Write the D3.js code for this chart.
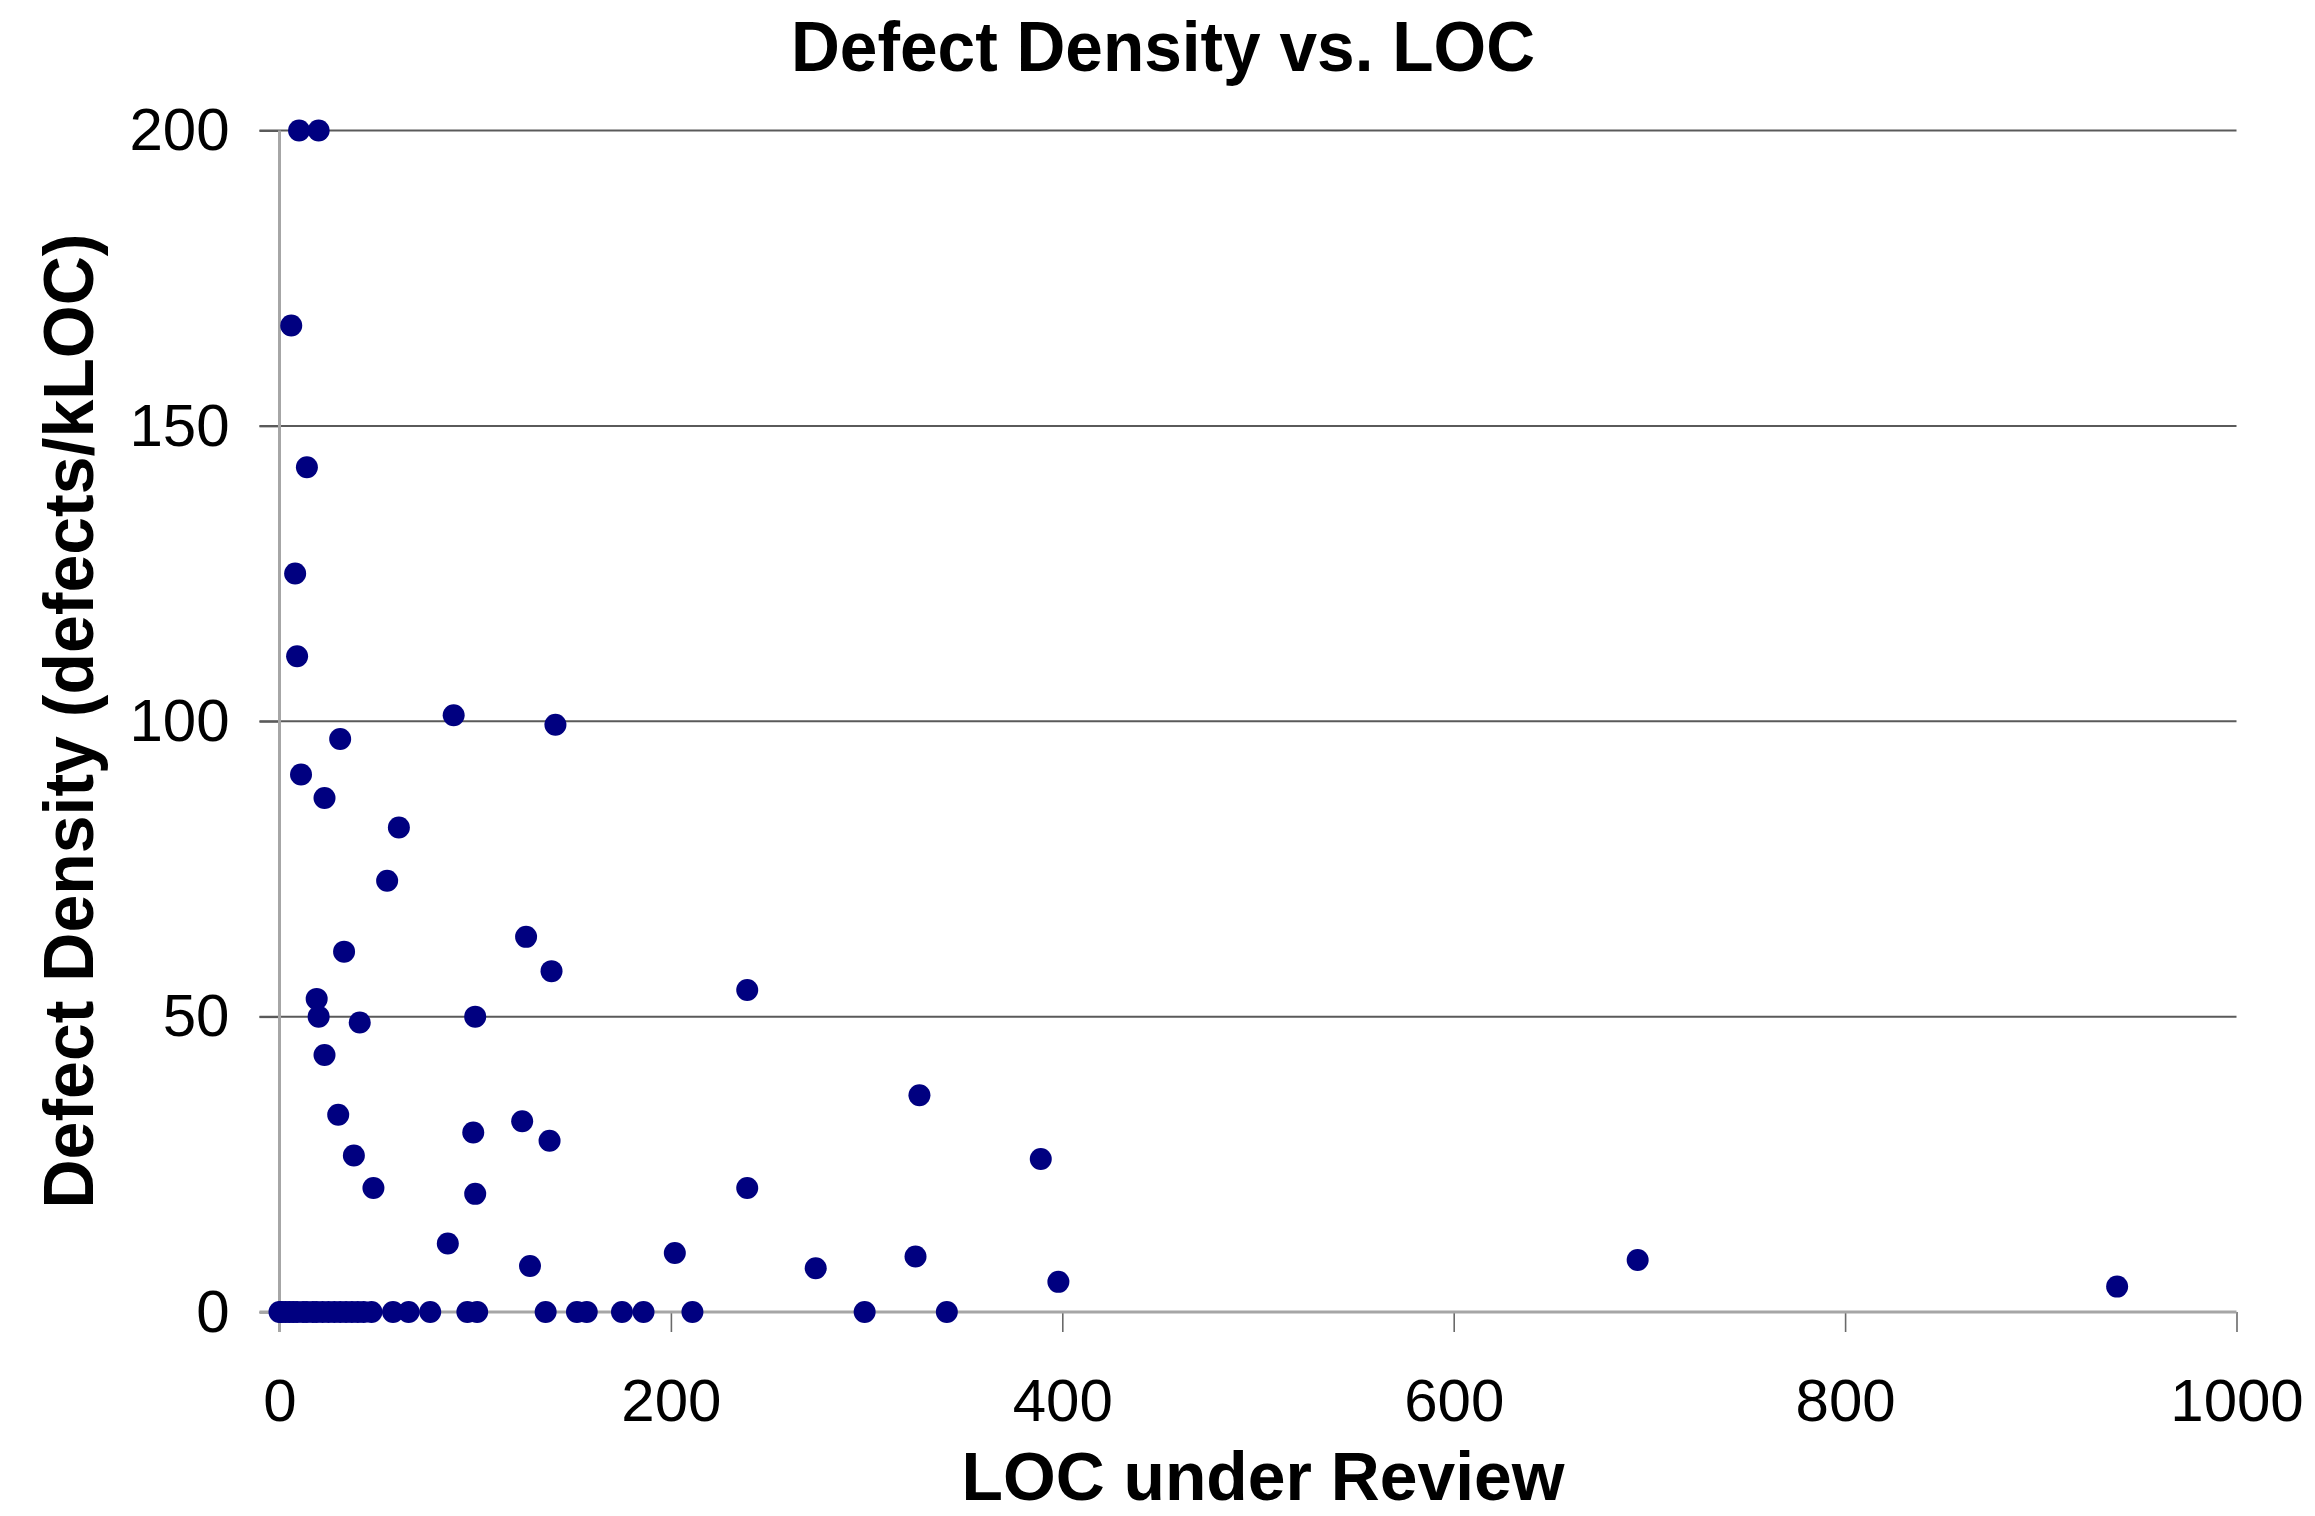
<!DOCTYPE html>
<html>
<head>
<meta charset="utf-8">
<script src="https://cdn.jsdelivr.net/npm/d3@7"></script>
<style>
  html, body { margin: 0; padding: 0; background: #ffffff; }
  svg { display: block; }
  text { font-family: "Liberation Sans", Arial, Helvetica, sans-serif; fill: #000; }
</style>
</head>
<body>
<svg id="chart" width="2315" height="1516"></svg>
<script>
// Lines of code reviewed per inspection, and the resulting defect density
const locUnderReview = [
  10, 20, 6, 14, 8, 9, 89, 141, 31, 11, 23, 61, 55, 33, 126, 139, 239,
  19, 20, 41, 100, 23, 30, 99, 124, 138, 38, 327, 389, 48, 100, 239,
  86, 128, 202, 274, 325, 398, 694, 939,
  0, 1, 3, 5, 7, 9, 12, 14, 17, 19, 22, 25, 28, 31, 34, 37, 40, 43, 47,
  58, 66, 77, 96, 101, 136, 152, 157, 175, 186, 211, 299, 341
];
const defectDensity = [
  200, 200, 167, 143, 125, 111, 101, 99.4, 97, 91, 87, 82, 73, 61, 63.5, 57.7, 54.5,
  53, 50, 49, 50, 43.5, 33.4, 30.4, 32.3, 29, 26.5, 36.7, 25.9, 21, 20, 21,
  11.6, 7.8, 10, 7.4, 9.4, 5.1, 8.8, 4.3,
  0, 0, 0, 0, 0, 0, 0, 0, 0, 0, 0, 0, 0, 0, 0, 0, 0, 0, 0,
  0, 0, 0, 0, 0, 0, 0, 0, 0, 0, 0, 0, 0
];
const xTickValues = [0, 200, 400, 600, 800, 1000];
const yTickValues = [0, 50, 100, 150, 200];
const chartTitle = "Defect Density vs. LOC";
const xAxisTitle = "LOC under Review";
const yAxisTitle = "Defect Density (defects/kLOC)";

const points = locUnderReview.map((x, i) => ({ x, y: defectDensity[i] }));

const svg = d3.select("#chart");

const x = d3.scaleLinear().domain([0, 1000]).range([279.5, 2236.5]);
const y = d3.scaleLinear().domain([0, 200]).range([1312, 130.5]);

const tickLen = 20;
const plainNumber = d3.format("d");

// horizontal gridlines (they also serve as the left tick marks)
svg.append("g")
  .selectAll("line")
  .data(yTickValues.filter(v => v > 0))
  .join("line")
  .attr("x1", x(0) - tickLen)
  .attr("x2", x(1000))
  .attr("y1", d => y(d))
  .attr("y2", d => y(d))
  .attr("stroke", "#5a5a5a")
  .attr("stroke-width", 2);

// y axis: labels from the scale, line drawn lighter
const yAxis = svg.append("g")
  .attr("transform", `translate(${x(0)},0)`)
  .call(d3.axisLeft(y).tickValues(yTickValues).tickFormat(plainNumber)
    .tickSize(tickLen).tickPadding(30));
yAxis.select(".domain").remove();
yAxis.selectAll(".tick line").attr("stroke", "#5a5a5a").attr("stroke-width", 2);
yAxis.selectAll(".tick text")
  .attr("font-size", 60)
  .attr("font-family", "Liberation Sans, Arial, sans-serif")
  .attr("fill", "#000");

// x axis
const xAxis = svg.append("g")
  .attr("transform", `translate(0,${y(0)})`)
  .call(d3.axisBottom(x).tickValues(xTickValues).tickFormat(plainNumber)
    .tickSize(tickLen).tickPadding(46));
xAxis.select(".domain").remove();
xAxis.selectAll(".tick line").attr("stroke", "#6a6a6a").attr("stroke-width", 1.6);
xAxis.selectAll(".tick text")
  .attr("font-size", 60)
  .attr("font-family", "Liberation Sans, Arial, sans-serif")
  .attr("fill", "#000");

// axis lines
svg.append("line")
  .attr("x1", x(0)).attr("x2", x(0))
  .attr("y1", y(200)).attr("y2", y(0) + tickLen)
  .attr("stroke", "#a6a6a6").attr("stroke-width", 3);
svg.append("line")
  .attr("x1", x(0) - tickLen).attr("x2", x(1000))
  .attr("y1", y(0)).attr("y2", y(0))
  .attr("stroke", "#a6a6a6").attr("stroke-width", 3);

// data markers
svg.append("g")
  .selectAll("circle")
  .data(points)
  .join("circle")
  .attr("cx", d => x(d.x))
  .attr("cy", d => y(d.y))
  .attr("r", 11)
  .attr("fill", "#000080");

// titles
svg.append("text")
  .attr("x", 1163).attr("y", 71)
  .attr("text-anchor", "middle")
  .attr("font-size", 70).attr("font-weight", "bold")
  .attr("textLength", 744).attr("lengthAdjust", "spacingAndGlyphs")
  .text(chartTitle);

svg.append("text")
  .attr("x", 1263).attr("y", 1500)
  .attr("text-anchor", "middle")
  .attr("font-size", 68).attr("font-weight", "bold")
  .attr("textLength", 603).attr("lengthAdjust", "spacingAndGlyphs")
  .text(xAxisTitle);

svg.append("text")
  .attr("transform", "translate(93,721) rotate(-90)")
  .attr("text-anchor", "middle")
  .attr("font-size", 71).attr("font-weight", "bold")
  .attr("textLength", 975).attr("lengthAdjust", "spacingAndGlyphs")
  .text(yAxisTitle);
</script>
</body>
</html>
